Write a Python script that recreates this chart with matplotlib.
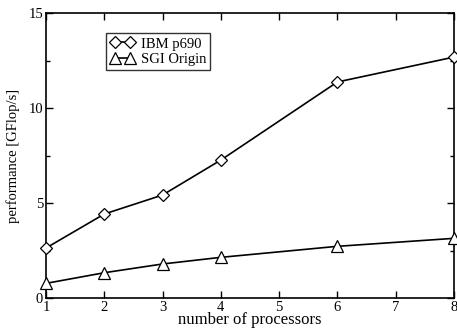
import matplotlib
matplotlib.use("Agg")
import matplotlib.pyplot as plt
from matplotlib.ticker import MultipleLocator

processors = [1, 2, 3, 4, 6, 8]
ibm_p690 = [2.63, 4.42, 5.42, 7.26, 11.37, 12.68]
sgi_origin = [0.77, 1.33, 1.79, 2.14, 2.72, 3.14]

plt.rcParams['font.family'] = ['Liberation Serif', 'DejaVu Serif']
plt.rcParams['font.size'] = 10.5

fig = plt.figure(figsize=(4.57, 3.32), dpi=100)
ax = fig.add_axes([46 / 457, 1 - 298 / 332, 408 / 457, 285 / 332])

ax.plot(processors, ibm_p690, color='black', lw=1.2, marker='D', ms=6.5,
        mfc='white', mec='black', mew=0.9, label='IBM p690', clip_on=False, zorder=3)
ax.plot(processors, sgi_origin, color='black', lw=1.2, marker='^', ms=8,
        mfc='white', mec='black', mew=0.9, label='SGI Origin', clip_on=False, zorder=3)

ax.set_xlim(1, 8)
ax.set_ylim(0, 15)
ax.xaxis.set_major_locator(MultipleLocator(1))
ax.yaxis.set_major_locator(MultipleLocator(5))
ax.yaxis.set_minor_locator(MultipleLocator(2.5))
ax.tick_params(which='both', direction='in', top=True, right=True, width=1,
               labelsize=10.5)
ax.tick_params(which='major', length=5, pad=2)
ax.tick_params(which='minor', length=3)
for s in ax.spines.values():
    s.set_linewidth(1.2)

ax.set_xlabel('number of processors', fontsize=12, labelpad=-1)
ax.set_ylabel('performance [GFlop/s]', fontsize=10.5, labelpad=6)

leg = ax.legend(loc='upper left', bbox_to_anchor=(0.148, 0.93), frameon=True,
                fancybox=False, edgecolor='black', numpoints=2, handlelength=1.6,
                handletextpad=0.45, borderpad=0.3, labelspacing=0.15,
                borderaxespad=0, fontsize=10.5)
leg.get_frame().set_linewidth(1.0)

fig.savefig('out.png', dpi=100)
